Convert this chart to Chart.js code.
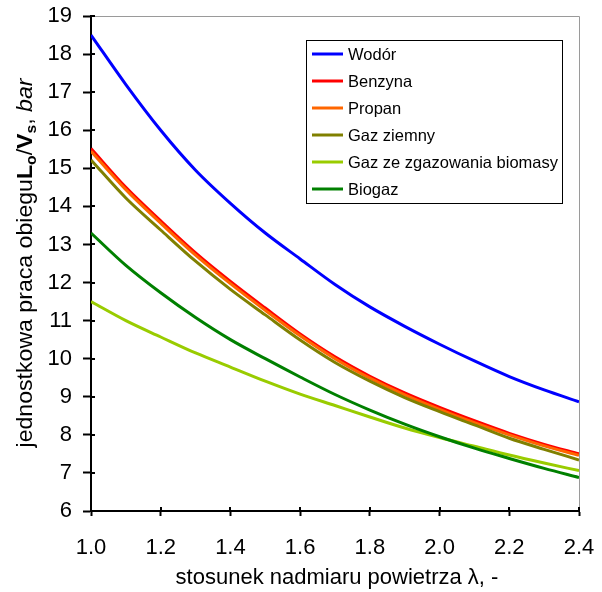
<!DOCTYPE html>
<html>
<head>
<meta charset="utf-8">
<script src="https://cdn.jsdelivr.net/npm/chart.js@4.4.1/dist/chart.umd.min.js"></script>
<style>
  html, body { margin: 0; padding: 0; background: #ffffff; }
  #wrap { width: 602px; height: 592px; position: relative; }
</style>
</head>
<body>
<div id="wrap"><canvas id="c" width="602" height="592"></canvas></div>
<script>
const lambdas = [1.0, 1.1, 1.2, 1.3, 1.4, 1.5, 1.6, 1.7, 1.8, 1.9, 2.0, 2.1, 2.2, 2.3, 2.4];
const seriesNames = ['Wodór', 'Benzyna', 'Propan', 'Gaz ziemny', 'Gaz ze zgazowania biomasy', 'Biogaz'];
const wodor   = [18.5, 17.2, 16.0, 14.95, 14.08, 13.3, 12.62, 11.95, 11.36, 10.85, 10.38, 9.94, 9.53, 9.18, 8.87];
const benzyna = [15.52, 14.5, 13.62, 12.78, 12.03, 11.33, 10.65, 10.05, 9.54, 9.1, 8.72, 8.37, 8.04, 7.75, 7.5];
const propan  = [15.45, 14.44, 13.56, 12.72, 11.97, 11.27, 10.6, 10.0, 9.49, 9.05, 8.67, 8.32, 8.0, 7.71, 7.46];
const gazZiemny = [15.22, 14.22, 13.38, 12.56, 11.82, 11.15, 10.49, 9.9, 9.41, 8.98, 8.61, 8.26, 7.91, 7.62, 7.34];
const biomasa = [11.5, 11.0, 10.57, 10.15, 9.78, 9.41, 9.07, 8.77, 8.47, 8.18, 7.93, 7.7, 7.47, 7.26, 7.06];
const biogaz  = [13.3, 12.45, 11.73, 11.08, 10.5, 10.0, 9.52, 9.06, 8.65, 8.28, 7.95, 7.65, 7.38, 7.12, 6.88];
const colors = ['#0000FF', '#FF0000', '#FF6600', '#808000', '#99CC00', '#008000'];
const xTickValues = [1.0, 1.2, 1.4, 1.6, 1.8, 2.0, 2.2, 2.4];
const yTickValues = [6, 7, 8, 9, 10, 11, 12, 13, 14, 15, 16, 17, 18, 19];
const xTitle = 'stosunek nadmiaru powietrza λ, -';

const allSeries = [wodor, benzyna, propan, gazZiemny, biomasa, biogaz];
const datasets = allSeries.map((vals, i) => ({
  label: seriesNames[i],
  data: lambdas.map((x, j) => ({ x: x, y: vals[j] })),
  borderColor: colors[i],
  backgroundColor: colors[i],
  borderWidth: 3,
  pointRadius: 0,
  cubicInterpolationMode: 'monotone',
  fill: false,
  order: 6 - i
}));

const FONT = '"Liberation Sans", Arial, sans-serif';

const decor = {
  id: 'decor',
  afterDraw(chart) {
    const ctx = chart.ctx;
    const a = chart.chartArea;
    const xs = chart.scales.x, ys = chart.scales.y;
    ctx.save();
    // top and right frame (gray)
    ctx.strokeStyle = '#9a9a9a';
    ctx.lineWidth = 1;
    ctx.beginPath();
    ctx.moveTo(a.left, a.top + 0.5); ctx.lineTo(a.right + 0.5, a.top + 0.5);
    ctx.lineTo(a.right + 0.5, a.bottom);
    ctx.stroke();
    // inner tick marks
    ctx.strokeStyle = '#000';
    ctx.lineWidth = 2;
    ctx.beginPath();
    yTickValues.forEach(v => {
      const y = Math.round(ys.getPixelForValue(v));
      ctx.moveTo(a.left, y); ctx.lineTo(a.left + 4, y);
    });
    xTickValues.forEach(v => {
      const x = Math.round(xs.getPixelForValue(v));
      ctx.moveTo(x, a.bottom); ctx.lineTo(x, a.bottom - 4);
    });
    ctx.stroke();

    // x title
    ctx.fillStyle = '#000';
    ctx.font = '22px ' + FONT;
    ctx.textAlign = 'center';
    ctx.textBaseline = 'alphabetic';
    ctx.fillText(xTitle, 337, 584);

    // y title with mixed styles
    const parts = [
      { t: 'jednostkowa praca obiegu', f: '22px ' + FONT, dy: 0 },
      { t: 'L', f: 'bold 22px ' + FONT, dy: 0 },
      { t: 'o', f: 'bold 15px ' + FONT, dy: 4 },
      { t: '/', f: '22px ' + FONT, dy: 0 },
      { t: 'V', f: 'bold 22px ' + FONT, dy: 0 },
      { t: 's', f: 'bold 15px ' + FONT, dy: 4 },
      { t: ', ', f: '22px ' + FONT, dy: 0 },
      { t: 'bar', f: 'italic 22px ' + FONT, dy: 0 }
    ];
    let total = 0;
    parts.forEach(p => { ctx.font = p.f; p.w = ctx.measureText(p.t).width; total += p.w; });
    ctx.translate(32, 263);
    ctx.rotate(-Math.PI / 2);
    ctx.scale(1.05, 1);
    ctx.textAlign = 'left';
    let cx = -total / 2;
    parts.forEach(p => {
      ctx.font = p.f;
      ctx.fillText(p.t, cx, p.dy);
      cx += p.w;
    });
    ctx.restore();

    // legend
    ctx.save();
    const lx = 306, ly = 40, lw = 256, lh = 163;
    ctx.fillStyle = '#fff';
    ctx.fillRect(lx, ly, lw, lh);
    ctx.strokeStyle = '#000';
    ctx.lineWidth = 1;
    ctx.strokeRect(lx + 0.5, ly + 0.5, lw, lh);
    ctx.font = '16.5px ' + FONT;
    ctx.textBaseline = 'middle';
    ctx.textAlign = 'left';
    seriesNames.forEach((name, i) => {
      const y = 54 + i * 27;
      ctx.strokeStyle = colors[i];
      ctx.lineWidth = 3;
      ctx.beginPath();
      ctx.moveTo(312, y); ctx.lineTo(343, y);
      ctx.stroke();
      ctx.fillStyle = '#000';
      ctx.fillText(name, 348, y + 1);
    });
    ctx.restore();
  }
};

new Chart(document.getElementById('c'), {
  type: 'line',
  data: { datasets: datasets },
  options: {
    responsive: false,
    animation: false,
    layout: { padding: { left: 0, right: 23, top: 16, bottom: 0 } },
    plugins: { legend: { display: false }, tooltip: { enabled: false } },
    scales: {
      x: {
        type: 'linear',
        min: 1.0, max: 2.4,
        afterBuildTicks(scale) { scale.ticks = xTickValues.map(v => ({ value: v })); },
        afterFit(scale) { scale.height = 81; scale.paddingLeft = 0; scale.paddingRight = 0; },
        ticks: {
          color: '#000',
          font: { family: FONT, size: 22 },
          padding: 19,
          maxRotation: 0,
          autoSkip: false,
          callback: v => Number(v).toFixed(1)
        },
        grid: { display: true, drawOnChartArea: false, drawTicks: true, tickLength: 5, tickWidth: 2, tickColor: '#000' },
        border: { display: true, color: '#000', width: 2 }
      },
      y: {
        type: 'linear',
        min: 6, max: 19,
        afterBuildTicks(scale) { scale.ticks = yTickValues.map(v => ({ value: v })); },
        afterFit(scale) { scale.width = 91; scale.paddingTop = 0; scale.paddingBottom = 0; },
        ticks: {
          color: '#000',
          font: { family: FONT, size: 22 },
          padding: 11,
          autoSkip: false,
          callback: v => String(v)
        },
        grid: { display: true, drawOnChartArea: false, drawTicks: true, tickLength: 8, tickWidth: 2, tickColor: '#000' },
        border: { display: true, color: '#000', width: 2 }
      }
    }
  },
  plugins: [decor]
});
</script>
</body>
</html>
